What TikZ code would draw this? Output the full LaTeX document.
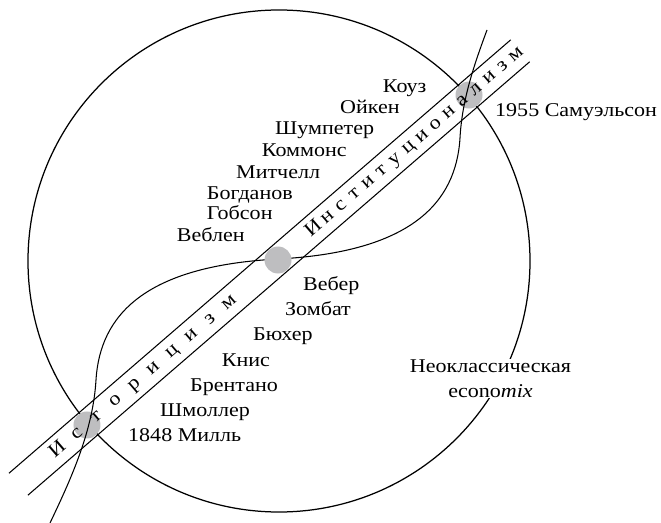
\documentclass[tikz,border=0pt]{standalone}
\usepackage{fontspec}
\setmainfont[FakeStretch=1.13]{Liberation Serif}
\definecolor{diskgray}{RGB}{190,190,192}
\newcommand\lbx[1]{\makebox[25.1bp]{#1}}
\newcommand\lby[1]{\makebox[17.8bp]{#1}}
\begin{document}
\begin{tikzpicture}[x=1bp,y=-1bp,
  every node/.style={font=\fontsize{19.5bp}{22bp}\selectfont, inner sep=0pt},
  namelbl/.style={anchor=base west},
  disk/.style={circle, fill=diskgray, minimum size=27bp, inner sep=0pt},
  thinline/.style={line width=1.05bp},
  bandtext/.style={rotate=40.82, anchor=base}]
\useasboundingbox (0,0) rectangle (661,523);
% big circle
\node[circle, draw, line width=1.25bp, minimum size=502bp] (ring) at (279,261) {};
% band
\begin{scope}[shift={(278,260)}, rotate=40.82]
  \coordinate (a1) at (-343,-14.5);
  \coordinate (a2) at (320,-14.5);
  \coordinate (b1) at (-343,14.5);
  \coordinate (b2) at (320,14.5);
  \draw[thinline] (a1) -- (a2);
  \draw[thinline] (b1) -- (b2);
  \node[disk] (dlow) at (-252.4,0) {};
  \node[disk] (dhigh) at (252.4,0) {};
  \coordinate (dmidpos) at (0,0);
  \coordinate (histpos) at (-177.75,4.5);
  \coordinate (instpos) at (181.1,4.5);
\end{scope}
% S-curve
\coordinate (s0) at (50,523);
\coordinate (s1) at (96,380);
\coordinate (s2) at (278,259);
\coordinate (s3) at (460,138);
\coordinate (s4) at (487,30);
\draw[thinline] (s0) .. controls (72,477) and (93,430) .. (s1)
  .. controls (100,315) and (145,266) .. (s2)
  .. controls (411,252) and (456,203) .. (s3)
  .. controls (462,100) and (474,65) .. (s4);
\node[disk] (dmid) at (dmidpos) {};
% band texts
\node[bandtext] (hist) at (histpos)
  {\lbx{И}\lbx{с}\lbx{т}\lbx{о}\lbx{р}\lbx{и}\lbx{ц}\lbx{и}\lbx{з}\lbx{м}};
\node[bandtext] (inst) at (instpos)
  {\lby{И}\lby{н}\lby{с}\lby{т}\lby{и}\lby{т}\lby{у}\lby{ц}\lby{и}\lby{о}\lby{н}\lby{а}\lby{л}\lby{и}\lby{з}\lby{м}};
% names
\node[namelbl] (kouz) at (382.7,92.7) {Коуз};
\node[namelbl] (oiken) at (340,114) {Ойкен};
\node[namelbl] (schump) at (275,135) {Шумпетер};
\node[namelbl] (commons) at (261.7,156.7) {Коммонс};
\node[namelbl] (mitch) at (236,178.3) {Митчелл};
\node[namelbl] (bogd) at (206.7,199.3) {Богданов};
\node[namelbl] (hobs) at (206.7,220) {Гобсон};
\node[namelbl] (veb) at (176.7,241.7) {Веблен};
\node[namelbl] (weber) at (303,290) {Вебер};
\node[namelbl] (somb) at (285,315) {Зомбат};
\node[namelbl] (buch) at (253,340.7) {Бюхер};
\node[namelbl] (knies) at (221.7,366.7) {Книс};
\node[namelbl] (brent) at (190,391.7) {Брентано};
\node[namelbl] (schm) at (160,416.7) {Шмоллер};
\node[namelbl] (mill) at (128,441.7) {1848 Милль};
\node[namelbl] (samu) at (495,117) {1955 Самуэльсон};
\node[fill=white, align=center, inner sep=1bp, anchor=base] (neo) at (490.5,397.3)
  {Неоклассическая\\[3bp] econo\textit{mix}};
\end{tikzpicture}
\end{document}
